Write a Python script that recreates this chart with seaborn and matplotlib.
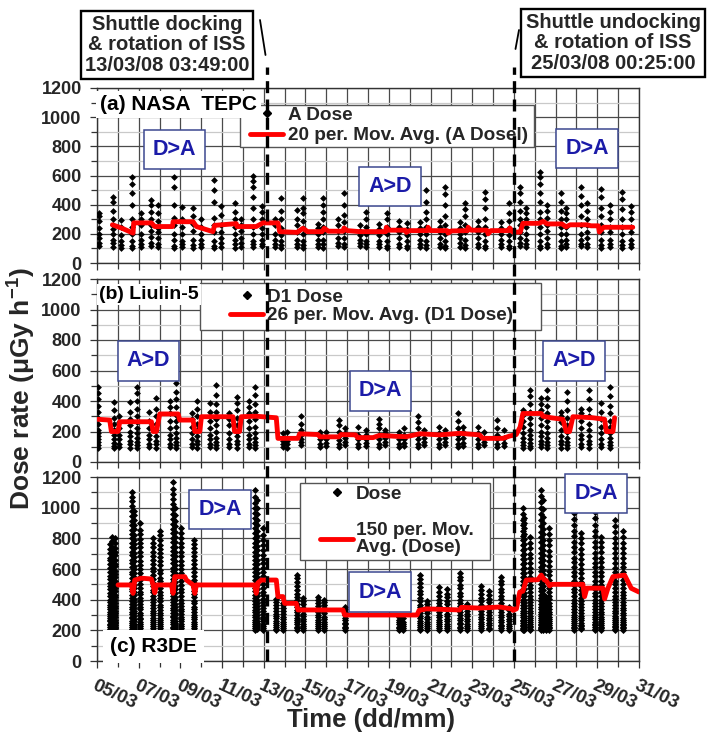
import numpy as np
import pandas as pd
import matplotlib
matplotlib.use("Agg")
import matplotlib.pyplot as plt
import seaborn as sns
from matplotlib.lines import Line2D
from matplotlib.patches import Rectangle

sns.set_style("white")
plt.rcParams["font.family"] = ["Liberation Sans", "DejaVu Sans"]
plt.rcParams["font.weight"] = "bold"
plt.rcParams["mathtext.fontset"] = "custom"
plt.rcParams["mathtext.rm"] = "Liberation Sans:bold"
plt.rcParams["mathtext.it"] = "Liberation Sans:bold"
plt.rcParams["mathtext.bf"] = "Liberation Sans:bold"

# ---------------------------------------------------------------- data
# time axis: days elapsed since 05/03/2008 00:00
DATE_TICK_DAYS = [0, 2, 4, 6, 8, 10, 12, 14, 16, 18, 20, 22, 24, 26]
DATE_TICK_LABELS = ["05/03", "07/03", "09/03", "11/03", "13/03", "15/03", "17/03",
                    "19/03", "21/03", "23/03", "25/03", "27/03", "29/03", "31/03"]
DOCKING_DAY = 8.159      # 13/03/08 03:49:00
UNDOCKING_DAY = 20.017   # 25/03/08 00:25:00

# (a) NASA TEPC - absorbed dose rate, one list of readings per pass
TEPC_DAY = [0.10, 0.75, 1.15, 1.70, 2.10, 2.60, 2.95, 3.70, 4.10, 4.60, 5.00, 5.60, 5.95,
            6.60, 6.90, 7.50, 7.90, 8.55, 8.85, 9.60, 9.90, 10.60, 10.85, 11.55, 11.85,
            12.60, 12.90, 13.55, 13.90, 14.50, 14.85, 15.50, 15.80, 16.45, 16.70, 17.40,
            17.65, 18.30, 18.60, 19.40, 19.75, 20.30, 20.60, 21.25, 21.60, 22.25, 22.50,
            23.20, 23.50, 24.20, 24.60, 25.20, 25.60]
TEPC_DOSE = [
    [120, 135, 170, 200, 240, 290, 320, 340],
    [110, 140, 160, 200, 230, 260, 300, 360, 420, 455],
    [100, 125, 150, 190, 250, 295],
    [105, 120, 150, 200, 250, 300, 400, 480, 540, 590],
    [110, 130, 160, 200, 260, 300, 341],
    [120, 140, 180, 220, 260, 300, 350, 400, 432],
    [110, 130, 170, 210, 240, 290, 340, 400],
    [100, 120, 160, 200, 260, 310, 400, 520, 590],
    [110, 130, 150, 200, 250, 300, 387],
    [105, 125, 160, 220, 270, 320, 380],
    [110, 130, 160, 200, 250, 300],
    [100, 120, 150, 210, 260, 310, 420, 500, 569],
    [110, 140, 170, 210, 260, 330, 390],
    [100, 130, 160, 200, 250, 300, 350, 410],
    [110, 135, 170, 220, 260, 300],
    [110, 130, 150, 200, 250, 300, 380, 450, 520, 560, 600],
    [115, 130, 160, 200, 240, 300, 350, 390],
    [110, 130, 160, 200, 260, 300],
    [100, 125, 150, 190, 240, 300, 360, 444],
    [110, 130, 160, 210, 260, 300, 364],
    [105, 125, 150, 200, 240, 290, 340, 380, 444],
    [110, 130, 160, 200, 240, 270],
    [105, 130, 160, 210, 250, 300, 350, 400, 444],
    [120, 140, 170, 220, 260, 300],
    [110, 130, 170, 220, 280, 330, 400, 478],
    [120, 140, 160, 190, 220, 260],
    [110, 130, 150, 200, 250, 300, 350, 420],
    [110, 130, 150, 190, 230, 270],
    [105, 120, 150, 200, 250, 300, 341],
    [110, 130, 170, 210, 250, 290],
    [100, 120, 150, 190, 230, 272],
    [110, 130, 160, 200, 240, 280],
    [105, 125, 150, 200, 250, 300, 350, 420, 500],
    [110, 130, 170, 210, 250, 290],
    [100, 120, 150, 200, 260, 320, 400, 470, 523],
    [110, 140, 170, 200, 240, 280],
    [105, 125, 160, 210, 260, 320, 370, 409],
    [110, 130, 170, 210, 250, 290],
    [100, 120, 150, 200, 250, 300, 380, 440, 490],
    [110, 130, 160, 200, 240, 280],
    [100, 120, 150, 190, 240, 290, 340, 409],
    [120, 140, 170, 210, 260, 300, 360, 420, 480, 523],
    [110, 130, 160, 200, 250, 300, 340, 380],
    [100, 120, 150, 200, 250, 300, 350, 420, 480, 540, 590, 625],
    [110, 130, 170, 220, 260, 310, 360, 400],
    [105, 120, 150, 200, 250, 300, 360, 420, 478],
    [110, 130, 160, 200, 250, 300, 340, 380],
    [115, 130, 160, 200, 260, 320, 400, 460, 523],
    [110, 130, 170, 210, 260, 300, 360, 410],
    [100, 125, 160, 210, 260, 320, 380, 450, 510],
    [110, 130, 160, 210, 250, 300, 350, 395],
    [105, 125, 150, 200, 250, 300, 370, 440, 490],
    [110, 130, 160, 210, 250, 300, 350, 390],
]
TEPC_AVG_DAY = [0.74, 1.17, 1.73, 1.76, 2.61, 2.77, 3.62, 3.65, 4.61, 4.77, 5.56, 5.64, 6.68,
                6.72, 7.64, 7.96, 8.68, 8.76, 9.60, 9.88, 10.10, 10.80, 10.90, 11.10, 11.80,
                11.85, 12.00, 12.60, 13.85, 13.88, 14.00, 14.80, 14.84, 15.00, 15.85, 15.88,
                16.00, 16.80, 16.84, 17.00, 17.78, 17.80, 17.95, 18.70, 18.76, 18.90, 19.75,
                19.80, 19.95, 20.30, 20.43, 21.20, 21.40, 21.60, 22.30, 22.50, 22.70, 23.50,
                23.70, 24.05, 24.10, 24.30, 25.70]
TEPC_AVG_DOSE = [262, 240, 205, 275, 275, 250, 250, 283, 283, 250, 215, 258, 270,
                 250, 250, 275, 275, 215, 210, 238, 215, 215, 238, 218, 218,
                 240, 222, 215, 215, 245, 225, 225, 210, 222, 222, 245,
                 222, 222, 205, 220, 222, 245, 225, 225, 200, 222, 222,
                 240, 212, 212, 272, 272, 285, 268, 268, 248, 262, 262,
                 255, 255, 212, 245, 245]

# (b) Liulin-5 - D1 detector dose rate
LIULIN_DAY = [0.05, 0.80, 1.05, 1.60, 1.90, 2.50, 2.85, 3.50, 3.80, 4.55, 4.80, 5.40, 5.70,
              6.35, 6.70, 7.30, 7.60, 8.90, 9.10, 9.80, 10.70, 11.00, 11.60, 11.90, 12.50,
              12.90, 13.55, 13.80, 14.50, 14.75, 15.40, 15.70, 16.40, 16.70, 17.30, 17.55,
              18.30, 18.55, 19.20, 19.50, 20.43, 20.75, 21.30, 21.60, 22.25, 22.55, 23.20,
              23.60, 24.20, 24.60]
LIULIN_DOSE = [
    [95, 110, 130, 150, 170, 190, 210, 250, 290, 330, 370, 410, 450, 494],
    [90, 105, 125, 150, 180, 210, 250, 290, 340, 395],
    [100, 120, 150, 180, 220, 260, 300],
    [95, 115, 140, 170, 200, 240, 280, 330, 395],
    [90, 110, 130, 160, 190, 220, 260, 300, 350, 400, 450, 494],
    [100, 120, 150, 180, 220, 270, 330],
    [95, 115, 140, 170, 210, 250, 300, 350, 418],
    [100, 120, 150, 180, 220, 270, 320, 360, 400],
    [90, 110, 130, 160, 190, 230, 270, 310, 360, 410, 460, 516],
    [100, 120, 150, 190, 230, 280, 320],
    [95, 115, 140, 170, 210, 250, 300, 350, 400],
    [100, 120, 150, 180, 220, 270, 330, 385],
    [90, 110, 130, 160, 200, 240, 280, 330, 380, 440, 505],
    [100, 120, 150, 190, 240, 280, 320],
    [95, 115, 140, 170, 200, 240, 290, 340, 390, 428],
    [100, 120, 150, 180, 220, 270, 320, 360, 400],
    [90, 110, 130, 160, 190, 230, 280, 330, 380, 440, 494],
    [100, 120, 140, 160, 190],
    [95, 115, 135, 160, 200],
    [110, 130, 150, 180, 210, 250, 300],
    [100, 120, 150, 175, 200],
    [105, 125, 150, 200],
    [100, 120, 145, 170, 200, 240, 275],
    [110, 130, 160, 190, 220],
    [100, 120, 150, 180, 230],
    [105, 125, 150, 180, 210],
    [100, 120, 150, 180, 220, 250, 285],
    [110, 130, 160, 190, 210],
    [100, 120, 150, 180, 200],
    [105, 125, 150, 180, 220],
    [100, 120, 150, 180, 220, 260, 300],
    [110, 130, 160, 190, 210],
    [100, 120, 150, 190, 230],
    [110, 130, 160, 210],
    [100, 120, 150, 180, 220, 270, 320],
    [105, 125, 160, 200, 230],
    [100, 120, 150, 190, 230],
    [110, 130, 160, 200],
    [100, 120, 150, 180, 220, 275],
    [105, 125, 160, 210],
    [95, 110, 130, 160, 190, 230, 270, 310, 340],
    [90, 105, 125, 150, 180, 210, 250, 290, 330, 380, 430, 470],
    [100, 115, 140, 170, 200, 240, 290, 340, 380, 420],
    [90, 110, 130, 160, 190, 230, 270, 320, 370, 420, 470],
    [95, 115, 140, 170, 210, 260, 300, 330],
    [90, 110, 130, 160, 200, 240, 290, 340, 400, 460],
    [100, 120, 150, 180, 220, 270, 320, 350],
    [95, 115, 140, 170, 210, 250, 300, 350, 410, 470],
    [100, 120, 150, 190, 230, 280, 330, 385],
    [90, 110, 130, 160, 190, 230, 270, 320, 370, 430, 494],
]
LIULIN_AVG_DAY = [0.05, 0.61, 0.69, 1.01, 1.09, 2.61, 2.69, 2.85, 3.01, 3.89, 3.97, 4.61, 4.69,
                  4.93, 5.01, 6.52, 6.60, 6.84, 6.92, 7.64, 8.60, 8.68, 9.64, 9.72, 10.60,
                  10.70, 11.60, 11.70, 12.40, 12.50, 13.24, 13.56, 14.36, 14.84, 15.48, 16.44,
                  17.40, 18.35, 18.51, 19.47, 19.79, 20.11, 20.30, 20.43, 21.31, 21.39, 21.79,
                  22.35, 22.51, 22.67, 22.83, 23.79, 24.35, 24.43, 24.75, 24.83]
LIULIN_AVG_DOSE = [280, 275, 200, 200, 264, 264, 200, 200, 315, 315, 275, 275, 200,
                   200, 297, 297, 200, 200, 297, 300, 290, 155, 155, 185, 180,
                   165, 165, 180, 178, 160, 160, 175, 168, 166, 185, 178,
                   188, 178, 155, 155, 170, 180, 230, 318, 318, 300, 290,
                   280, 200, 200, 297, 290, 280, 200, 200, 290]

# (c) R3DE - dose rate, readings above the 200 threshold
R3DE_DAY = [0.62, 0.70, 0.88, 1.70, 1.78, 2.06, 2.68, 3.00, 3.66, 3.74, 4.02, 4.66, 7.60,
            7.68, 7.95, 8.60, 8.90, 9.60, 9.90, 10.58, 10.90, 11.88, 14.50, 14.66, 15.50,
            15.85, 16.42, 16.80, 17.42, 17.75, 18.40, 18.80, 19.37, 19.75, 20.42, 20.50,
            20.75, 21.30, 21.38, 21.55, 21.70, 22.90, 23.20, 23.90, 24.20, 24.85, 25.25]
R3DE_DOSE = [
    [203, 210, 222, 235, 243, 258, 266, 281, 296, 305, 322, 337, 349, 366, 387, 401, 426, 442, 467, 489, 511, 537, 552, 578, 604, 630, 657, 671, 702, 732, 760],
    [206, 214, 227, 232, 251, 263, 275, 292, 308, 317, 336, 352, 371, 389, 412, 425, 451, 473, 486, 509, 532, 561, 583, 597, 624, 650, 681, 699, 726, 744, 780, 811],
    [201, 212, 219, 233, 248, 255, 270, 284, 301, 313, 329, 347, 358, 377, 396, 418, 433, 457, 479, 498, 524, 547, 566, 590, 618, 633, 661, 689, 712, 738, 769, 800],
    [202, 211, 224, 238, 247, 262, 279, 288, 306, 321, 340, 351, 372, 394, 409, 431, 455, 468, 497, 512, 539, 566, 583, 611, 642, 659, 690, 713, 746, 771, 802, 826, 857, 889, 913, 948, 976, 1012, 1043, 1071, 1104],
    [208, 220, 235, 243, 260, 274, 292, 310, 327, 344, 365, 382, 406, 428, 449, 476, 495, 520, 547, 571, 598, 622, 653, 681, 705, 737, 766, 791, 822, 858, 884, 917, 950, 980],
    [205, 213, 228, 240, 255, 272, 283, 301, 316, 336, 349, 370, 392, 411, 436, 452, 479, 503, 528, 549, 577, 601, 629, 652, 683, 709, 741, 768, 797, 828, 856, 898],
    [204, 215, 226, 240, 253, 269, 281, 298, 314, 329, 347, 364, 385, 402, 424, 447, 463, 488, 510, 536, 559, 584, 607, 633, 660, 688, 714, 741, 770, 800],
    [203, 212, 227, 239, 254, 266, 283, 297, 315, 332, 351, 366, 389, 408, 429, 450, 474, 496, 522, 544, 571, 596, 623, 649, 676, 703, 731, 758, 786, 819, 850],
    [202, 214, 225, 241, 252, 268, 285, 296, 314, 330, 348, 367, 383, 405, 426, 444, 468, 489, 514, 536, 561, 587, 609, 636, 662, 689, 715, 744, 773, 801, 833, 862, 894, 925, 958, 990, 1023, 1057, 1091, 1124, 1170],
    [206, 219, 233, 246, 263, 279, 297, 313, 334, 352, 374, 395, 418, 441, 467, 490, 517, 543, 571, 598, 627, 655, 686, 714, 746, 778, 809, 843, 878, 912, 950, 1000],
    [204, 216, 229, 243, 258, 274, 288, 306, 323, 342, 360, 381, 401, 425, 447, 470, 496, 519, 545, 572, 598, 626, 654, 683, 712, 741, 772, 803, 834, 865],
    [203, 215, 228, 244, 256, 271, 287, 303, 320, 339, 355, 376, 394, 417, 436, 459, 481, 506, 529, 555, 579, 606, 632, 659, 686, 712, 740, 764, 790],
    [202, 213, 227, 239, 255, 268, 284, 299, 317, 333, 352, 369, 391, 410, 433, 455, 478, 502, 527, 553, 578, 604, 631, 659, 687, 714, 744, 772, 803, 833, 865, 897, 930, 962, 996, 1031, 1067, 1115],
    [207, 220, 234, 249, 264, 281, 298, 317, 336, 356, 377, 399, 421, 446, 470, 495, 521, 548, 576, 603, 632, 661, 691, 722, 752, 784, 817, 850, 885, 921, 960, 1000, 1050],
    [204, 216, 230, 243, 259, 273, 290, 307, 326, 343, 363, 384, 405, 428, 451, 476, 501, 527, 553, 580, 608, 636, 665, 694, 724, 755, 786, 820, 865],
    [203, 211, 224, 237, 249, 262, 278, 291, 309, 327, 344, 362, 386, 407],
    [204, 215, 229, 241, 257, 272, 290, 307, 328, 344, 363, 380],
    [202, 214, 225, 239, 252, 266, 283, 298, 317, 333, 354, 372, 395, 415, 440, 462, 489, 513, 541, 560],
    [205, 216, 231, 243, 260, 274, 293, 309, 330, 348, 371, 391, 410],
    [203, 213, 228, 239, 255, 268, 286, 301, 321, 338, 359, 377, 400, 420],
    [204, 217, 228, 244, 257, 275, 290, 310, 327, 348, 365, 385, 400],
    [202, 214, 224, 239, 251, 268, 282, 301, 317, 337, 355],
    [203, 215, 225, 240, 252, 269, 290],
    [205, 214, 229, 241, 257, 280],
    [202, 211, 225, 235, 250, 262, 279, 293, 312, 328, 349, 367, 390, 410, 435, 457, 484, 507, 535, 561],
    [204, 217, 228, 244, 257, 275, 290, 310, 327, 349, 369, 393],
    [203, 215, 226, 241, 253, 270, 284, 303, 319, 340, 358, 381, 401, 426, 449, 480],
    [205, 216, 231, 243, 260, 274, 293, 309, 330, 348, 371, 391, 416, 439, 467],
    [202, 214, 224, 239, 251, 268, 282, 301, 317, 338, 356, 379, 399, 424, 446, 473, 497, 526, 549, 572],
    [204, 215, 230, 242, 259, 273, 292, 308, 329, 350, 370],
    [203, 216, 227, 243, 256, 274, 289, 309, 326, 348, 367, 391, 412, 438, 461, 490],
    [206, 218, 234, 247, 265, 280, 300, 317, 339, 358, 382, 403, 429, 457],
    [202, 213, 227, 238, 254, 267, 285, 300, 320, 337, 359, 378, 402, 423, 449, 472, 500, 524, 550],
    [205, 216, 231, 243, 260, 274, 293, 309, 331, 350],
    [202, 208, 217, 226, 238, 247, 259, 270, 284, 297, 313, 327, 346, 362, 383, 401, 425, 446, 472, 495, 523, 548, 577, 603, 634, 662, 694, 722, 755, 786, 818, 851, 884, 918, 956, 996],
    [205, 213, 222, 233, 244, 256, 268, 281, 295, 310, 326, 343, 361, 380, 401, 423, 446, 470, 496, 522, 549, 577, 606, 636, 667, 698, 730, 762, 795, 830, 865, 900, 930],
    [203, 211, 220, 231, 242, 254, 267, 280, 295, 311, 327, 345, 363, 383, 404, 426, 449, 473, 498, 524, 551, 579, 608, 638, 669, 701, 734, 768, 811],
    [201, 207, 215, 224, 233, 243, 254, 266, 279, 292, 306, 321, 337, 354, 372, 391, 411, 432, 455, 478, 503, 529, 556, 584, 613, 643, 674, 706, 739, 773, 808, 844, 881, 919, 958, 998, 1039, 1077, 1115],
    [204, 211, 219, 228, 238, 249, 261, 274, 288, 303, 319, 336, 354, 373, 393, 414, 437, 461, 486, 512, 539, 567, 596, 626, 657, 689, 722, 756, 791, 827, 864, 902, 941, 990, 1050],
    [202, 209, 216, 224, 232, 241, 250, 260, 271, 283, 296, 310, 325, 341, 358, 377, 398, 420],
    [205, 214, 224, 235, 247, 260, 274, 289, 305, 322, 340, 360, 381, 403, 426, 450, 476, 503, 531, 560, 590, 621, 653, 686, 720, 755, 790, 827, 865],
    [203, 212, 222, 233, 245, 258, 272, 287, 303, 320, 338, 357, 378, 400, 423, 447, 472, 498, 525, 553, 582, 612, 643, 675, 708, 742, 777, 813, 850, 888, 927, 965, 1000],
    [206, 215, 226, 238, 251, 265, 280, 296, 313, 331, 350, 370, 391, 414, 438, 463, 489, 516, 544, 573, 603, 634, 666, 699, 733, 768, 800, 833],
    [202, 211, 221, 232, 244, 257, 271, 286, 302, 319, 337, 356, 377, 399, 422, 446, 471, 497, 524, 552, 581, 611, 642, 674, 707, 741, 776, 812, 849, 887, 930, 975],
    [204, 213, 223, 234, 246, 259, 273, 288, 304, 321, 339, 358, 378, 400, 423, 447, 472, 498, 525, 553, 582, 612, 643, 675, 708, 742, 777, 811],
    [203, 210, 219, 229, 240, 252, 265, 279, 294, 310, 327, 345, 364, 384, 405, 427, 450, 474, 499, 525, 552, 580, 609, 639, 670, 702, 735, 769, 804, 840, 880, 920],
    [205, 213, 222, 232, 243, 255, 268, 282, 297, 313, 330, 348, 367, 387, 408, 430, 453, 477, 502, 528, 555, 583, 612, 642, 673, 705, 738, 772, 810, 850],
]
R3DE_AVG_DAY = [1.01, 1.65, 1.73, 1.81, 2.13, 2.61, 2.69, 2.77, 2.85, 3.57, 3.65, 3.73, 4.21,
                4.29, 4.61, 4.69, 4.77, 7.56, 7.64, 7.72, 7.88, 8.60, 8.68, 8.92, 9.00,
                9.56, 9.64, 11.80, 11.88, 15.35, 15.45, 15.80, 17.40, 17.48, 18.36, 19.32,
                19.90, 19.96, 20.12, 20.28, 20.43, 20.59, 21.15, 21.31, 21.45, 21.55, 21.71,
                21.79, 23.31, 23.39, 23.50, 24.27, 24.35, 24.51, 24.75, 25.31, 25.63, 26.00]
R3DE_AVG_DOSE = [496, 496, 441, 528, 540, 535, 496, 445, 496, 496, 441, 550, 550,
                 528, 496, 441, 496, 496, 441, 510, 528, 528, 420, 420, 376,
                 376, 333, 333, 300, 300, 330, 340, 333, 350, 345, 352,
                 340, 330, 340, 450, 455, 528, 530, 560, 530, 525, 490,
                 500, 500, 420, 475, 475, 405, 475, 550, 560, 474, 450]

PANELS = [
    dict(label="(a) NASA  TEPC", day=TEPC_DAY, dose=TEPC_DOSE,
         avg_day=TEPC_AVG_DAY, avg_dose=TEPC_AVG_DOSE,
         legend=["A Dose", "20 per. Mov. Avg. (A Dosel)"]),
    dict(label="(b) Liulin-5", day=LIULIN_DAY, dose=LIULIN_DOSE,
         avg_day=LIULIN_AVG_DAY, avg_dose=LIULIN_AVG_DOSE,
         legend=["D1 Dose", "26 per. Mov. Avg. (D1 Dose)"]),
    dict(label="(c) R3DE", day=R3DE_DAY, dose=R3DE_DOSE,
         avg_day=R3DE_AVG_DAY, avg_dose=R3DE_AVG_DOSE,
         legend=["Dose", "150 per. Mov.\nAvg. (Dose)"]),
]
REGIME_LABELS = [["D>A", "A>D", "D>A"], ["A>D", "D>A", "A>D"], ["D>A", "D>A", "D>A"]]

# ---------------------------------------------------------------- layout
W, H = 707, 737
fig = plt.figure(figsize=(W / 100, H / 100), dpi=100)
ax_left, ax_width = 97 / W, 542 / W
rows_px = [(88, 263), (279, 462), (477, 661)]

# placement of the regime boxes, the panel label and the legend (axes fractions)
regime_pos = [[(0.143, 0.646), (0.541, 0.437), (0.904, 0.654)],
              [(0.095, 0.552), (0.523, 0.388), (0.880, 0.552)],
              [(0.227, 0.823), (0.522, 0.375), (0.921, 0.908)]]
label_pos = [(0.006, 0.905), (0.004, 0.913), (0.024, 0.078)]
label_size = [15, 14, 15]
label_pad = [0.2, 0.1, 0.35]
# legend frame (x0, x1, y0, y1) and entry anchor (x, y centre)
legend_frame = [(0.2638, 0.8063, 0.6629, 0.9029),
                (0.1900, 0.8192, 0.7213, 0.9780),
                (0.3745, 0.7251, 0.5489, 0.9674)]
legend_anchor = [(0.2823, 0.786), (0.2454, 0.850), (0.4114, 0.761)]
legend_spacing = [0.15, 0.07, 1.0]
legend_textpad = [0.25, 0.2, 0.12]

GRID_DARK = "#4a4a4a"
GRID_LIGHT = "#c9c9c9"
RED = "#ff0000"
NAVY = "#1b1ba8"

axes = []
for i, (panel, (top_px, bot_px)) in enumerate(zip(PANELS, rows_px)):
    ax = fig.add_axes([ax_left, 1 - bot_px / H, ax_width, (bot_px - top_px) / H])
    axes.append(ax)

    pts = pd.DataFrame({
        "day": np.repeat(panel["day"], [len(v) for v in panel["dose"]]),
        "dose": np.concatenate([np.asarray(v, float) for v in panel["dose"]]),
    })
    sns.scatterplot(data=pts, x="day", y="dose", ax=ax, marker="D",
                    s=13 if i == 2 else 12, color="black", linewidth=0,
                    legend=False, zorder=3)
    sns.lineplot(x=panel["avg_day"], y=panel["avg_dose"], ax=ax, color=RED,
                 linewidth=3.5, estimator=None, sort=False, zorder=4)

    ax.set_xlim(0, 26)
    ax.set_ylim(0, 1200)
    ax.set_xticks(DATE_TICK_DAYS)
    ax.set_xticks(np.arange(0, 27), minor=True)
    ax.set_yticks(np.arange(0, 1201, 200))
    ax.set_yticks(np.arange(100, 1200, 200), minor=True)
    ax.set_xlabel("")
    ax.set_ylabel("")

    ax.grid(which="major", axis="y", color=GRID_DARK, linewidth=0.9, zorder=0)
    ax.grid(which="minor", axis="y", color=GRID_LIGHT, linewidth=0.9, zorder=0)
    ax.grid(which="both", axis="x", color=GRID_DARK, linewidth=0.9, zorder=0)
    ax.set_axisbelow(True)
    for sp in ax.spines.values():
        sp.set_color("#333333")
        sp.set_linewidth(1.0)

    ax.tick_params(axis="both", which="both", direction="out", color="#333333",
                   width=0.9, bottom=True, left=True)
    ax.tick_params(axis="both", which="major", length=5)
    ax.tick_params(axis="both", which="minor", length=4)
    ax.tick_params(axis="y", labelsize=13, pad=6)
    for t in ax.get_yticklabels():
        t.set_fontweight("bold")

    if i < 2:
        ax.tick_params(axis="x", labelbottom=False)
    else:
        ax.set_xticklabels(DATE_TICK_LABELS)
        ax.tick_params(axis="x", which="major", pad=7)
        for t in ax.get_xticklabels():
            t.set_fontsize(13.5)
            t.set_fontweight("bold")
            t.set_rotation(-25)
            t.set_ha("left")
            t.set_va("top")
            t.set_rotation_mode("anchor")

    # panel title with an opaque background over the grid
    lx, ly = label_pos[i]
    ax.text(lx, ly, panel["label"], transform=ax.transAxes, ha="left", va="center",
            fontsize=label_size[i], fontweight="bold", color="black", zorder=9,
            bbox=dict(boxstyle=f"square,pad={label_pad[i]}", fc="white", ec="none"))

    # orientation regime boxes
    for txt, (rx, ry) in zip(REGIME_LABELS[i], regime_pos[i]):
        ax.text(rx, ry, txt, transform=ax.transAxes, ha="center", va="center",
                fontsize=15.5, fontweight="bold", color=NAVY, zorder=7,
                bbox=dict(boxstyle="square,pad=0.42", fc="white", ec="#3c4890", lw=1.1))

    # legend: framed box with the entries placed inside it
    fx0, fx1, fy0, fy1 = legend_frame[i]
    ax.add_patch(Rectangle((fx0, fy0), fx1 - fx0, fy1 - fy0, transform=ax.transAxes,
                           fc="white", ec="#555555", lw=1.0, zorder=7.5, clip_on=False))
    handles = [Line2D([], [], ls="none", marker="D", markersize=3.6, color="black"),
               Line2D([], [], color=RED, linewidth=3.5)]
    leg = ax.legend(handles, panel["legend"], loc="center left",
                    bbox_to_anchor=legend_anchor[i], borderaxespad=0.0, borderpad=0.0,
                    prop={"weight": "bold", "size": 13.7}, handlelength=1.75,
                    handletextpad=legend_textpad[i], labelspacing=legend_spacing[i],
                    frameon=False)
    for t in leg.get_texts():
        t.set_linespacing(1.0)
    leg.set_zorder(8)

ax_c = axes[2]

# shuttle docking / undocking markers running through all three panels
inv = fig.transFigure.inverted()
y_bottom = 1 - rows_px[2][1] / H
y_top = 1 - 67 / H
for d in (DOCKING_DAY, UNDOCKING_DAY):
    xf = inv.transform(ax_c.transData.transform((d, 0)))[0]
    fig.add_artist(Line2D([xf, xf], [y_bottom, y_top], transform=fig.transFigure,
                          color="black", linewidth=2.4, linestyle=(0, (3.6, 1.9)),
                          zorder=20))

# event call-outs
box_style = dict(boxstyle="square,pad=0.2", fc="white", ec="black", lw=1.7)
fig.text(167 / W, 1 - 45 / H, "Shuttle docking\n& rotation of ISS\n13/03/08 03:49:00",
         ha="center", va="center", fontsize=14.5, fontweight="bold",
         linespacing=1.12, bbox=box_style)
fig.text(613 / W, 1 - 43 / H, "Shuttle undocking\n& rotation of ISS\n25/03/08 00:25:00",
         ha="center", va="center", fontsize=14.5, fontweight="bold",
         linespacing=1.12, bbox=box_style)
fig.add_artist(Line2D([260 / W, 265.5 / W], [1 - 20 / H, 1 - 55 / H],
                      transform=fig.transFigure, color="black", linewidth=1.3))
fig.add_artist(Line2D([519 / W, 515.5 / W], [1 - 30 / H, 1 - 49 / H],
                      transform=fig.transFigure, color="black", linewidth=1.3))

# shared axis titles
fig.text(22 / W, 1 - 389 / H, r"Dose rate ($\mathregular{\mu}$Gy h$^{-1}$)",
         rotation=90, ha="center", va="center", fontsize=19, fontweight="bold")
fig.text(371 / W, 1 - 720 / H, "Time (dd/mm)", ha="center", va="center",
         fontsize=18.5, fontweight="bold")

fig.savefig("out.png", dpi=100, facecolor="white")
